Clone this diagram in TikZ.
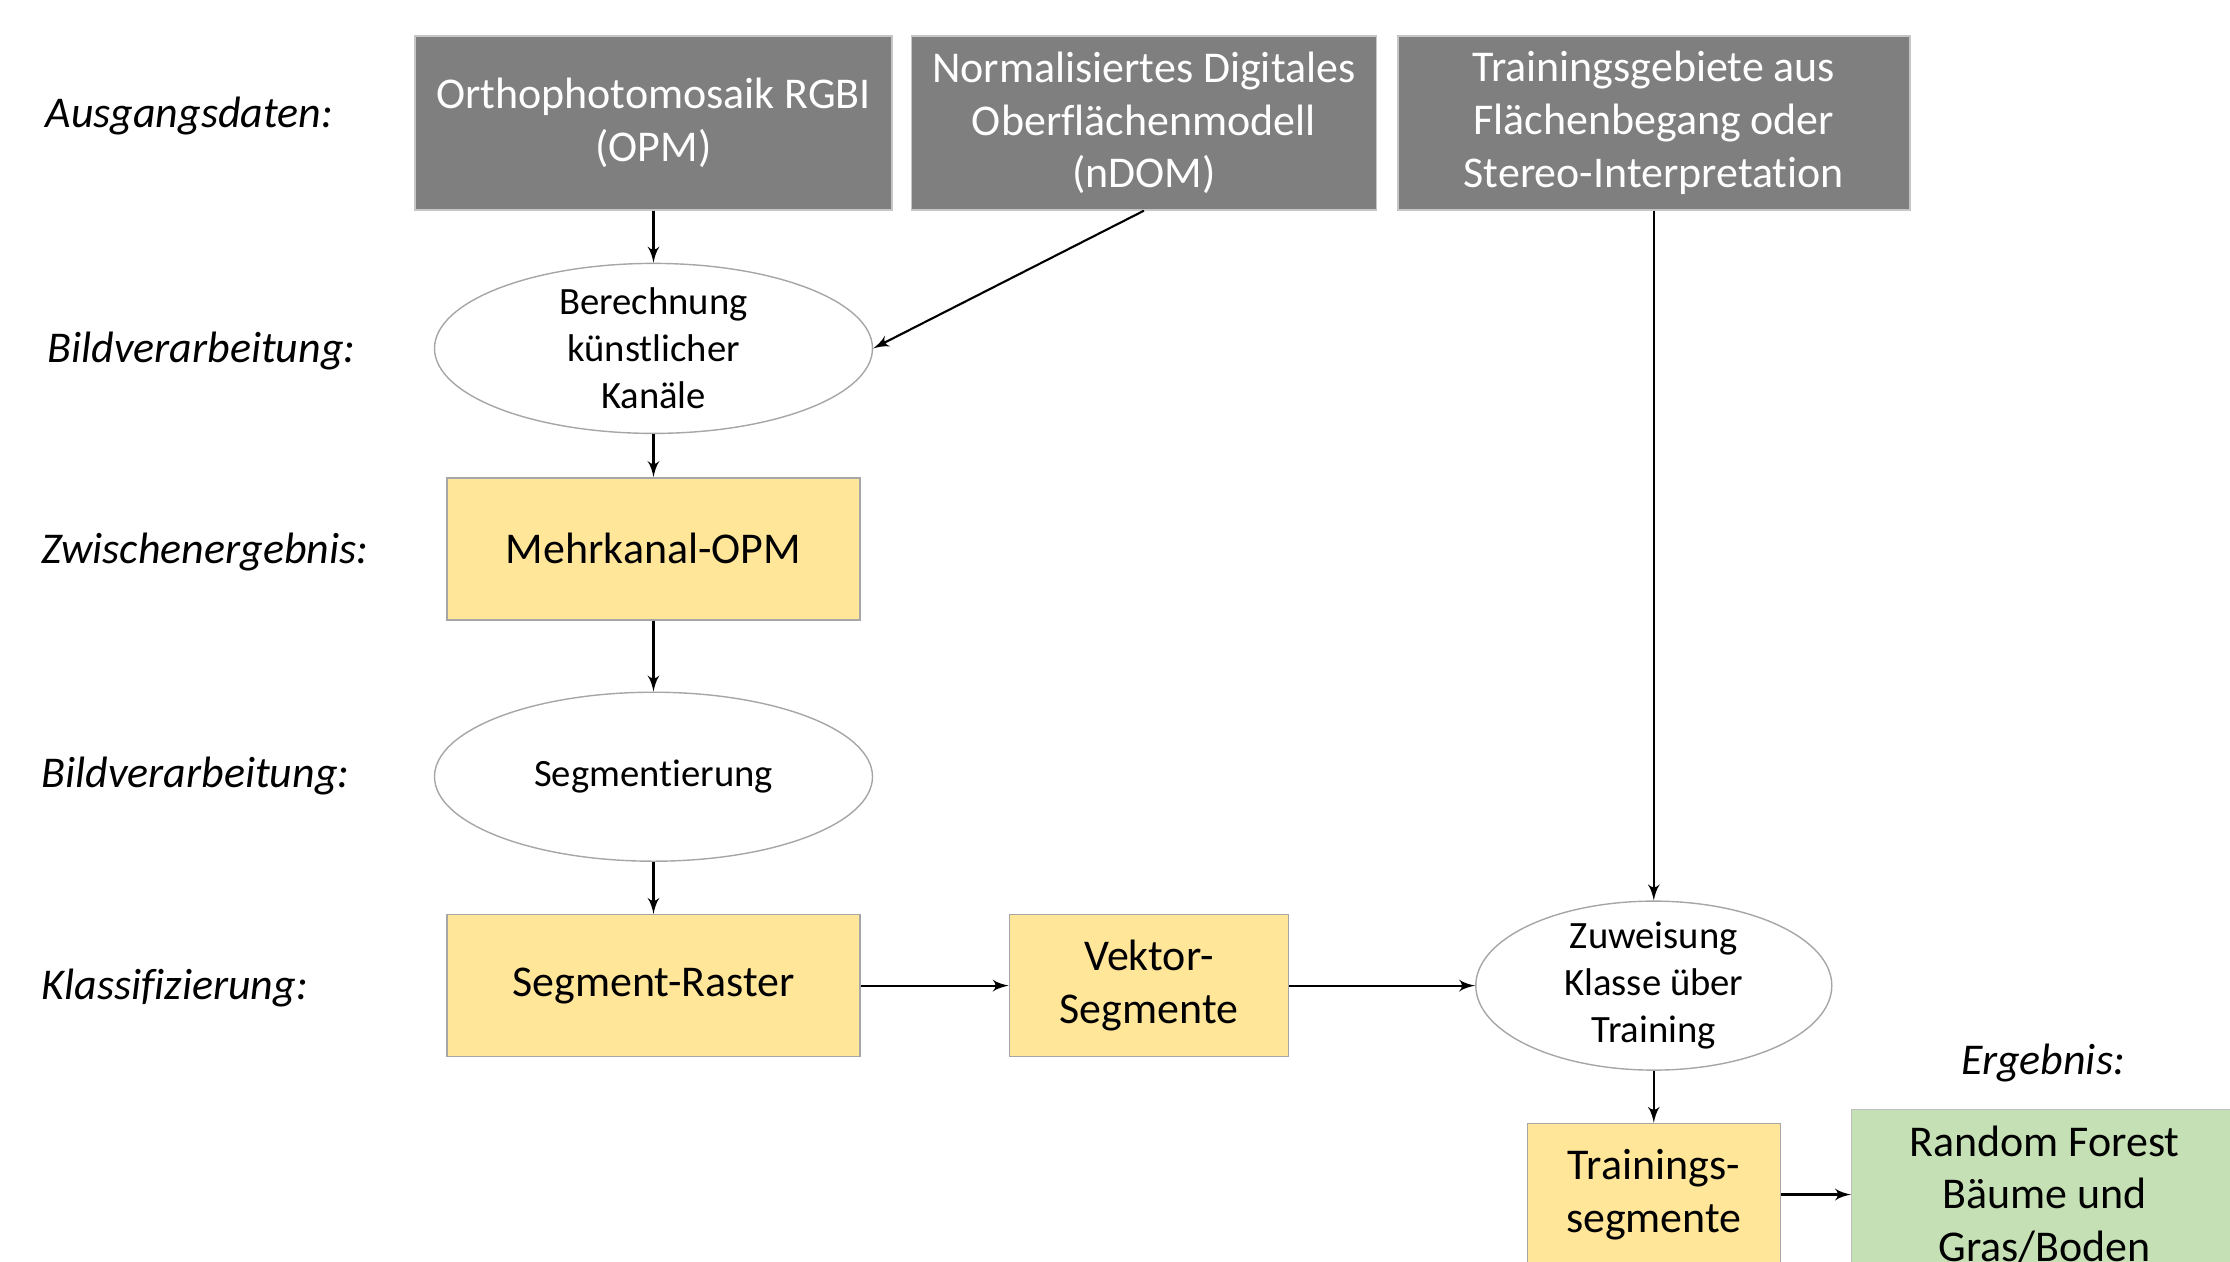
\documentclass[tikz,border=0pt]{standalone}
\usepackage{fontspec}
\setmainfont{Carlito}[Ligatures=NoCommon]
\usepackage{tikz}
\usetikzlibrary{positioning}
\usetikzlibrary{arrows}
\usetikzlibrary{shapes.geometric}

\definecolor{datagray}{HTML}{7F7F7F}
\definecolor{resyellow}{HTML}{FFE699}
\definecolor{resgreen}{HTML}{C5E0B4}

\begin{document}
\begin{tikzpicture}[
databox/.style={rectangle, draw=gray!45, fill=datagray, text=white, align=center, minimum height=1.74cm, inner sep=0pt, font=\fontsize{12.5}{15}\selectfont},
procnode/.style={ellipse, draw=gray!70, align=center, inner sep=-2pt, minimum width=4.38cm, minimum height=1.7cm, font=\fontsize{11}{13.4}\selectfont},
midbox/.style={rectangle, draw=gray!70, fill=resyellow, align=center, minimum height=1.42cm, inner sep=0pt, font=\fontsize{12.5}{15}\selectfont},
endbox/.style={rectangle, draw=gray!50, fill=resgreen, align=center, minimum height=1.7cm, inner sep=0pt, font=\fontsize{12.5}{15}\selectfont},
rowlabel/.style={anchor=west, inner sep=0pt, font=\fontsize{12.5}{15}\selectfont\itshape},
edge/.style={->,> = latex', line width=0.6pt}
]
\useasboundingbox (0,0) rectangle (22.30,-12.62);

%Nodes
\node[databox, minimum width=4.77cm] (opm) at (6.535,-1.23) {Orthophotomosaik RGBI\\(OPM)};
\node[databox, minimum width=4.65cm] (ndom) [right=0.18 of opm] {Normalisiertes Digitales\\Oberflächenmodell\\(nDOM)};
\node[databox, minimum width=5.12cm] (train) [right=0.20 of ndom] {Trainingsgebiete aus\\Flächenbegang oder\\Stereo-Interpretation};

\node[procnode]         (calc)     [below=0.52 of opm]     {Berechnung\\künstlicher\\Kanäle};
\node[midbox, minimum width=4.13cm] (mopm) [below=0.43 of calc] {Mehrkanal-OPM};
\node[procnode, minimum height=1.69cm] (segm) [below=0.71 of mopm] {Segmentierung};
\node[midbox, minimum width=4.13cm] (raster) [below=0.52 of segm] {Segment-Raster};
\node[midbox, minimum width=2.79cm] (vektor) [right=1.48 of raster] {Vektor-\\Segmente};
\node[procnode, minimum width=3.56cm, minimum height=1.69cm] (zuw) at (train |- vektor) {Zuweisung\\Klasse über\\Training};
\node[midbox, minimum width=2.53cm] (tseg) [below=0.52 of zuw] {Trainings-\\segmente};
\node[endbox, minimum width=3.86cm] (forest) [right=0.70 of tseg] {Random Forest\\Bäume und\\Gras/Boden};

% row labels
\node[rowlabel] (l1) at (0.45,-1.16) {Ausgangsdaten:};
\node[rowlabel] (l2) at (0.47,-3.51) {Bildverarbeitung:};
\node[rowlabel] (l3) at (0.41,-5.52) {Zwischenergebnis:};
\node[rowlabel] (l4) at (0.41,-7.76) {Bildverarbeitung:};
\node[rowlabel] (l5) at (0.41,-9.88) {Klassifizierung:};
\node[font=\fontsize{12.5}{15}\selectfont\itshape] (l6) at (20.43,-10.63) {Ergebnis:};

%Lines
\draw[edge] (opm.south) -- (calc.north);
\draw[edge] (ndom.south) -- (calc.east);
\draw[edge] (calc.south) -- (mopm.north);
\draw[edge] (mopm.south) -- (segm.north);
\draw[edge] (segm.south) -- (raster.north);
\draw[edge] (raster.east) -- (vektor.west);
\draw[edge] (vektor.east) -- (zuw.west);
\draw[edge] (train.south) -- (zuw.north);
\draw[edge] (zuw.south) -- (tseg.north);
\draw[edge] (tseg.east) -- (forest.west);

\end{tikzpicture}
\end{document}
